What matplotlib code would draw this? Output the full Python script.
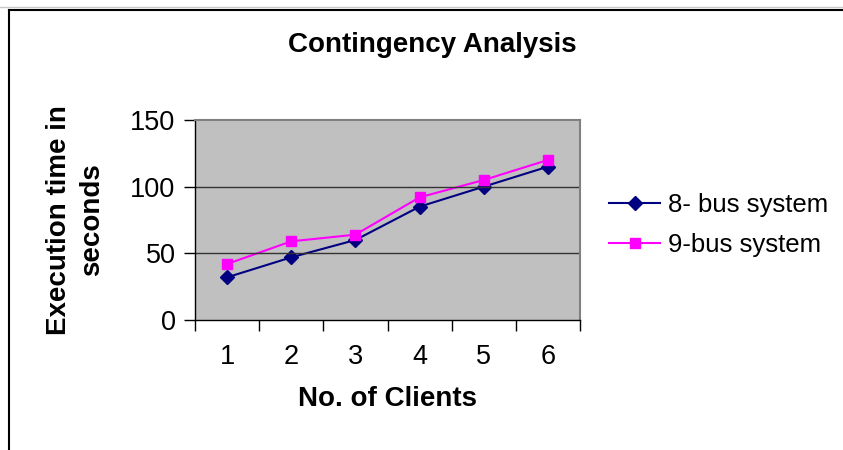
import matplotlib
matplotlib.use("Agg")
import matplotlib.pyplot as plt
from matplotlib.lines import Line2D

plt.rcParams['font.family'] = ['Liberation Sans', 'DejaVu Sans']

clientes = [1, 2, 3, 4, 5, 6]
bus8 = [32, 47, 60, 85, 100, 115]
bus9 = [42, 59, 64, 92, 105, 120]
etiquetas = ['8- bus system', '9-bus system']
yticks = [0, 50, 100, 150]

fig = plt.figure(figsize=(8.43, 4.5), dpi=100)

# marco exterior (solo lado izquierdo y superior visibles)
fig.add_artist(Line2D([9/843, 9/843], [0, 1 - 10/450], color='black', lw=1.5,
                      transform=fig.transFigure))
fig.add_artist(Line2D([9/843, 1], [1 - 10/450, 1 - 10/450], color='black', lw=1.5,
                      transform=fig.transFigure))
fig.add_artist(Line2D([0, 1], [1 - 7/450, 1 - 7/450], color='#c8c8c8', lw=1,
                      transform=fig.transFigure))

ax = fig.add_axes([195/843, 130/450, 385/843, 200/450])
ax.set_facecolor('#C0C0C0')

pos = [c - 0.5 for c in clientes]
ax.plot(pos, bus8, color='#000080', marker='D', ms=7, lw=1.5, label=etiquetas[0])
ax.plot(pos, bus9, color='#FF00FF', marker='s', ms=7, lw=1.5, label=etiquetas[1])

ax.set_xlim(0, len(clientes))
ax.set_ylim(0, 150)
ax.set_yticks(yticks)
ax.set_xticks(range(len(clientes) + 1))
ax.set_xticklabels([])
ax.set_xticks(pos, minor=True)
ax.set_xticklabels([str(c) for c in clientes], minor=True, fontsize=19.5)
ax.tick_params(axis='x', which='minor', length=0, pad=17)
ax.tick_params(axis='x', which='major', length=8, width=1, color='black')
ax.tick_params(axis='y', length=8, width=1, labelsize=19.5, pad=6)

for v in [50, 100]:
    ax.axhline(v, color='#333333', lw=1)

for s in ['top', 'right']:
    ax.spines[s].set_color('#808080')
    ax.spines[s].set_linewidth(1.5)
for s in ['left', 'bottom']:
    ax.spines[s].set_color('black')
    ax.spines[s].set_linewidth(1)

ax.set_xlabel('No. of Clients', fontsize=20, fontweight='bold', labelpad=12)
ax.set_ylabel('Execution time in\nseconds', fontsize=20, fontweight='bold', labelpad=18,
              linespacing=1.35)
fig.text(432/843, 1 - 45/450, 'Contingency Analysis', ha='center', va='center',
         fontsize=20, fontweight='bold')

ax.legend(loc='center left', bbox_to_anchor=(1.015, 0.475), frameon=False,
          fontsize=18.5, handlelength=2.0, handletextpad=0.3, labelspacing=0.6)

fig.savefig('out.png', dpi=100)
